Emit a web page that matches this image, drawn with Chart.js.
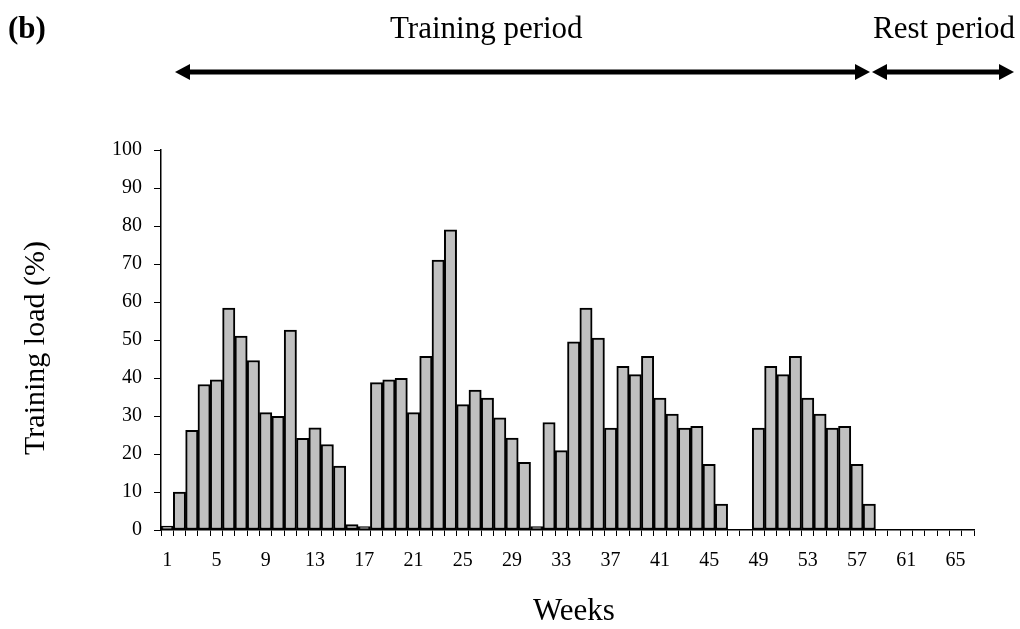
<!DOCTYPE html>
<html>
<head>
<meta charset="utf-8">
<script src="https://cdn.jsdelivr.net/npm/chart.js@4"></script>
<style>
  html, body { margin: 0; padding: 0; background: #fff; }
  #wrap { width: 1020px; height: 629px; }
</style>
</head>
<body>
<div id="wrap"><canvas id="myChart"></canvas></div>
<script>
// weeks 1..66
var weeks = [];
for (var w = 1; w <= 66; w++) weeks.push(String(w));

// training load (%) per week, null = no training
var trainingLoad = [
    1, 10, 26.2, 38.3, 39.5, 58.4, 51, 44.6, 30.9, 29.9,
    52.6, 24.1, 26.9, 22.5, 16.8, 1.4, 0.9, 38.8, 39.5, 39.9,
    30.9, 45.7, 71, 79, 33, 36.8, 34.7, 29.5, 24.2, 17.8,
    0.9, 28.3, 20.9, 49.5, 58.4, 50.5, 26.8, 43.1, 40.9, 45.7,
    34.7, 30.5, 26.8, 27.3, 17.3, 6.8, null, null, 26.8, 43.1,
    40.9, 45.7, 34.7, 30.5, 26.8, 27.3, 17.3, 6.8, null, null,
    null, null, null, null, null, null
];

var yTicks = [0, 10, 20, 30, 40, 50, 60, 70, 80, 90, 100];

var headerLabels = ['Training period', 'Rest period'];
var xTitle = 'Weeks';
var yTitle = 'Training load (%)';

function arrow(ctx, x1, x2, y) {
    var head = 15, half = 8;
    ctx.save();
    ctx.fillStyle = '#000';
    ctx.strokeStyle = '#000';
    ctx.lineWidth = 5;
    ctx.beginPath();
    ctx.moveTo(x1 + head - 2, y);
    ctx.lineTo(x2 - head + 2, y);
    ctx.stroke();
    ctx.beginPath();
    ctx.moveTo(x1, y);
    ctx.lineTo(x1 + head, y - half);
    ctx.lineTo(x1 + head, y + half);
    ctx.closePath();
    ctx.fill();
    ctx.beginPath();
    ctx.moveTo(x2, y);
    ctx.lineTo(x2 - head, y - half);
    ctx.lineTo(x2 - head, y + half);
    ctx.closePath();
    ctx.fill();
    ctx.restore();
}

// header text, arrows and axis titles
var header = {
    id: 'header',
    afterDraw: function (chart) {
        var ctx = chart.ctx;
        ctx.save();
        ctx.fillStyle = '#000';
        ctx.textBaseline = 'alphabetic';
        ctx.textAlign = 'left';
        ctx.font = 'bold 31px "Liberation Serif"';
        ctx.fillText('(b)', 8, 38);
        ctx.font = '31px "Liberation Serif"';
        ctx.fillText(headerLabels[0], 390, 38);
        ctx.fillText(headerLabels[1], 873, 38);

        ctx.textAlign = 'center';
        ctx.fillText(xTitle, 574, 620);

        ctx.translate(44, 348);
        ctx.rotate(-Math.PI / 2);
        ctx.font = '30px "Liberation Serif"';
        ctx.fillText(yTitle, 0, 0);
        ctx.restore();

        arrow(ctx, 175, 870, 72);
        arrow(ctx, 872, 1014, 72);
    }
};

var ctx = document.getElementById('myChart').getContext('2d');

var myChart = new Chart(ctx, {
    type: 'bar',
    data: {
        labels: weeks,
        datasets: [{
            data: trainingLoad,
            backgroundColor: '#C0C0C0',
            borderColor: '#000',
            borderWidth: 2,
            borderSkipped: false,
            categoryPercentage: 1,
            barPercentage: 1
        }]
    },
    plugins: [header],
    options: {
        responsive: true,
        maintainAspectRatio: false,
        animation: false,
        layout: {
            padding: { top: 150, right: 46, left: 0, bottom: 0 }
        },
        plugins: {
            legend: { display: false },
            tooltip: { enabled: false }
        },
        scales: {
            x: {
                offset: true,
                afterFit: function (scale) { scale.height = 99; },
                grid: {
                    offset: true,
                    drawOnChartArea: false,
                    drawTicks: true,
                    tickLength: 6,
                    color: '#000'
                },
                border: { display: true, color: '#000', width: 1.5 },
                ticks: {
                    autoSkip: false,
                    maxRotation: 0,
                    padding: 13,
                    color: '#000',
                    font: { family: 'Liberation Serif', size: 20 },
                    callback: function (val, i) {
                        return i % 4 === 0 ? weeks[i] : '';
                    }
                }
            },
            y: {
                min: 0,
                max: 100,
                afterFit: function (scale) { scale.width = 161; },
                afterBuildTicks: function (scale) {
                    scale.ticks = yTicks.map(function (v) { return { value: v }; });
                },
                grid: {
                    drawOnChartArea: false,
                    drawTicks: true,
                    tickLength: 7,
                    color: '#000'
                },
                border: { display: true, color: '#000', width: 1.5 },
                ticks: {
                    padding: 12,
                    color: '#000',
                    font: { family: 'Liberation Serif', size: 20 }
                }
            }
        }
    }
});
</script>
</body>
</html>
